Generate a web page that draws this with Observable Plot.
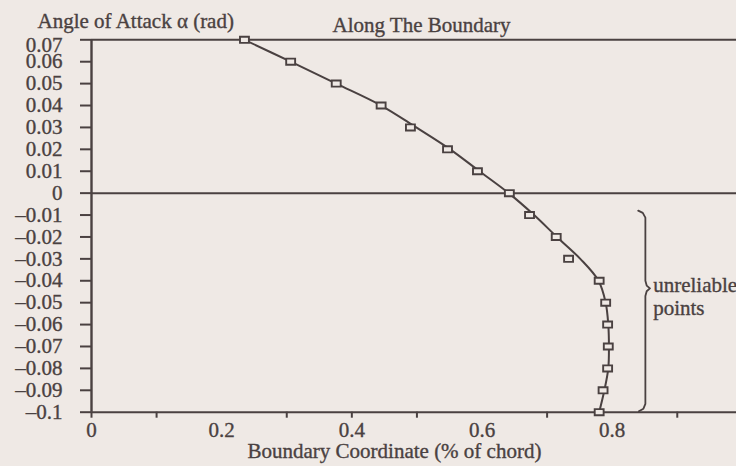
<!DOCTYPE html>
<html><head><meta charset="utf-8">
<script src="https://cdn.jsdelivr.net/npm/d3@7"></script>
<script src="https://cdn.jsdelivr.net/npm/@observablehq/plot@0.6"></script>
<style>
html,body{margin:0;padding:0;background:#efe9e5;}
#chart{width:736px;height:466px;overflow:hidden;}
#chart svg text{stroke:#4a4141;stroke-width:0.35px;}
</style></head><body><div id="chart"></div>
<script>
// Data
const alphaLevels = [0.07, 0.06, 0.05, 0.04, 0.03, 0.02, 0.01, 0, -0.01, -0.02, -0.03, -0.04, -0.05, -0.06, -0.07, -0.08, -0.09, -0.1];
const markerCoord = [0.235, 0.306, 0.376, 0.445, 0.490, 0.547, 0.593, 0.642, 0.673, 0.714, 0.733, 0.780, 0.790, 0.793, 0.794, 0.793, 0.786, 0.780];
const curveCoord  = [0.235, 0.306, 0.376, 0.445, 0.499, 0.551, 0.596, 0.641, 0.680, 0.715, 0.751, 0.779, 0.790, 0.794, 0.795, 0.794, 0.788, 0.780];

const yTicks = [0.07, 0.06, 0.05, 0.04, 0.03, 0.02, 0.01, 0, -0.01, -0.02, -0.03, -0.04, -0.05, -0.06, -0.07, -0.08, -0.09, -0.1];
const yTickLabels = ["0.07","0.06","0.05","0.04","0.03","0.02","0.01","0","–0.01","–0.02","–0.03","–0.04","–0.05","–0.06","–0.07","–0.08","–0.09","–0.1"];
const xLabelTicks = [0, 0.2, 0.4, 0.6, 0.8];
const xLabelText = ["0", "0.2", "0.4", "0.6", "0.8"];
const xMinorTicks = [0, 0.1, 0.3, 0.4, 0.5, 0.7, 0.9];
const refLines = [0.07, 0, -0.1];

// "unreliable points" brace annotation
const braceCoord = [0.840, 0.847, 0.851, 0.851, 0.853, 0.858, 0.853, 0.851, 0.851, 0.848, 0.841];
const braceAlpha = [-0.0080, -0.0090, -0.0112, -0.0400, -0.0422, -0.0435, -0.0448, -0.0470, -0.0962, -0.0984, -0.0996];
const noteText = ["unreliable", "points"];
const noteCoord = [0.863, 0.863];
const noteAlpha = [-0.0422, -0.0525];

const titleLeft = "Angle of Attack α (rad)";
const titleCenter = "Along The Boundary";
const xTitle = "Boundary Coordinate (% of chord)";

const ink = "#4a4141";
const paper = "#efe9e5";
const font = "Liberation Serif, Times New Roman, serif";

const rectSymbol = {
  draw(context, size) {
    const s = Math.sqrt(size);
    const w = s * 1.2, h = s * 0.82;
    context.rect(-w / 2, -h / 2, w, h);
  }
};

const topTick = yTicks.slice(0, 1);
const restTicks = yTicks.slice(1);
const yFmt = d => yTickLabels[yTicks.indexOf(d)];
const noText = () => "";

const chart = Plot.plot({
  width: 736,
  height: 466,
  marginLeft: 91,
  marginRight: 0,
  marginTop: 39.3,
  marginBottom: 54.3,
  x: {domain: [0, 0.991]},
  y: {domain: [-0.1, 0.07]},
  style: {fontFamily: font, fontSize: "21px", color: ink, background: "transparent", overflow: "hidden"},
  marks: [
    Plot.ruleY(refLines, {stroke: ink, strokeWidth: 2}),
    Plot.ruleX([0], {stroke: ink, strokeWidth: 2.4}),
    Plot.axisY(yTicks, {tickSize: 11, tickFormat: noText, stroke: ink, strokeWidth: 2, label: null}),
    Plot.axisY(restTicks, {tickSize: 0, tickPadding: 29, tickFormat: yFmt, fill: ink, fontSize: 21, label: null}),
    Plot.axisY(topTick, {tickSize: 0, tickPadding: 29, dy: 5, tickFormat: yFmt, fill: ink, fontSize: 21, label: null}),
    Plot.axisX(xMinorTicks, {tickSize: 6, tickFormat: noText, stroke: ink, strokeWidth: 2, label: null}),
    Plot.axisX(xLabelTicks, {tickSize: 0, tickPadding: 10, tickFormat: d => xLabelText[xLabelTicks.indexOf(d)], fill: ink, fontSize: 21, label: null}),
    Plot.line(alphaLevels, {x: curveCoord, y: alphaLevels, curve: "catmull-rom", stroke: ink, strokeWidth: 2}),
    Plot.dot(alphaLevels, {x: markerCoord, y: alphaLevels, symbol: rectSymbol, r: 4.2, stroke: ink, fill: paper, strokeWidth: 1.9}),
    Plot.line(braceCoord, {x: braceCoord, y: braceAlpha, stroke: ink, strokeWidth: 1.8, curve: "linear"}),
    Plot.text(noteText, {x: noteCoord, y: noteAlpha, text: d => d, textAnchor: "start", lineAnchor: "middle", fontSize: 21, fill: ink}),
    Plot.text([titleLeft], {frameAnchor: "top-left", textAnchor: "start", lineAnchor: "middle", dx: -54, dy: -18.8, fontSize: 21, fill: ink}),
    Plot.text([titleCenter], {frameAnchor: "top-left", textAnchor: "start", lineAnchor: "middle", dx: 241, dy: -14.5, fontSize: 21, fill: ink}),
    Plot.text([xTitle], {frameAnchor: "bottom-left", textAnchor: "start", lineAnchor: "middle", dx: 156, dy: 38.8, fontSize: 21, fill: ink})
  ]
});
document.getElementById("chart").appendChild(chart);
</script>
</body></html>
